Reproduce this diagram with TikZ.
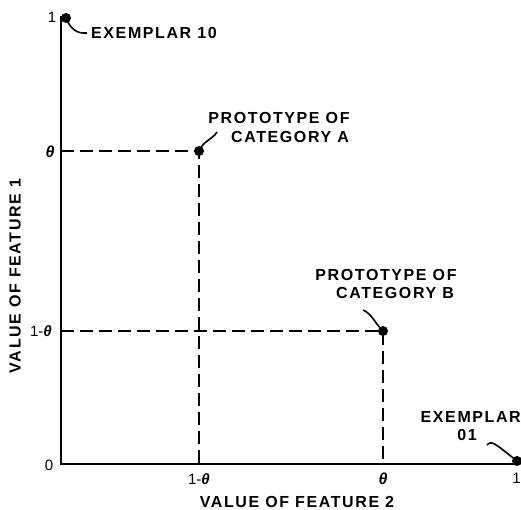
\documentclass[tikz,border=0pt]{standalone}
\usepackage{fontspec}
\setmainfont{Liberation Sans}[LetterSpace=10]
\newfontfamily\tickfont{Liberation Sans}
\begin{document}
\begin{tikzpicture}[x=1pt,y=-1pt,
  axis/.style={line width=2pt},
  guide/.style={line width=1.5pt,dash pattern=on 13pt off 6pt},
  dot/.style={circle,fill=black,inner sep=0pt,minimum size=10pt},
  lbl/.style={font=\fontsize{16}{17}\selectfont\bfseries,inner sep=0pt},
  tick/.style={font=\fontsize{15}{16}\selectfont\tickfont,inner sep=0pt},
  lead/.style={line width=1.6pt},
  th/.style={font=\fontsize{16}{16}\selectfont\tickfont\bfseries\itshape,inner sep=0pt}]
\useasboundingbox (0,0) rectangle (521,510);
% axes
\coordinate (O) at (61,464);
\coordinate (Ytop) at (61,16);
\coordinate (Xend) at (518,464);
\draw[axis] (Ytop) -- (O) -- (Xend);
% guide lines
\coordinate (yA) at (61,151);
\coordinate (xA) at (199,464);
\coordinate (yB) at (61,331);
\coordinate (xB) at (383,464);
\node[dot] (pA) at (199,151) {};
\node[dot] (pB) at (383,331) {};
\node[dot] (e10) at (66,18) {};
\node[dot] (e01) at (517,461) {};
\draw[guide] (yA) -- (pA.center) -- (xA);
\draw[guide] (yB) -- (pB.center) -- (xB);
% tick labels
\node[tick] (l1y) at (52,17) {1};
\node[th] (lthy) at (50,152) {θ};
\node[tick] (l1mthy) at (41,331) {1-{\bfseries\itshape θ}};
\node[tick] (l0) at (49,465) {0};
\node[tick] (l1mthx) at (199,479) {1-{\bfseries\itshape θ}};
\node[th] (lthx) at (383,479) {θ};
\node[tick,anchor=east] (l1x) at (521,478) {1};
% axis titles
\node[lbl] (xt) at (297,502) {VALUE OF FEATURE 2};
\node[lbl,rotate=90] (yt) at (15,276) {VALUE OF FEATURE 1};
% point labels
\node[lbl,anchor=west] (t10) at (91,33) {EXEMPLAR 10};
\node[lbl] (tA1) at (279,118) {PROTOTYPE OF};
\node[lbl] (tA2) at (290,137) {CATEGORY A};
\node[lbl] (tB1) at (386,275) {PROTOTYPE OF};
\node[lbl] (tB2) at (395,293) {CATEGORY B};
\node[lbl,anchor=east] (t01a) at (521,417) {EXEMPLAR};
\node[lbl] (t01b) at (467,435) {01};
% leaders
\coordinate (c10) at (87,33);
\coordinate (cA) at (217,132);
\coordinate (cB) at (363,310);
\coordinate (c01) at (487,445);
\draw[lead] (e10.center) .. controls (70,28) and (76,34) .. (c10);
\draw[lead] (pA.center) .. controls (204,140) and (212,140) .. (cA);
\draw[lead] (cB) .. controls (372,314) and (374,322) .. (pB.center);
\draw[lead] (c01) .. controls (492,440) and (494,443) .. (e01.center);
\end{tikzpicture}
\end{document}
